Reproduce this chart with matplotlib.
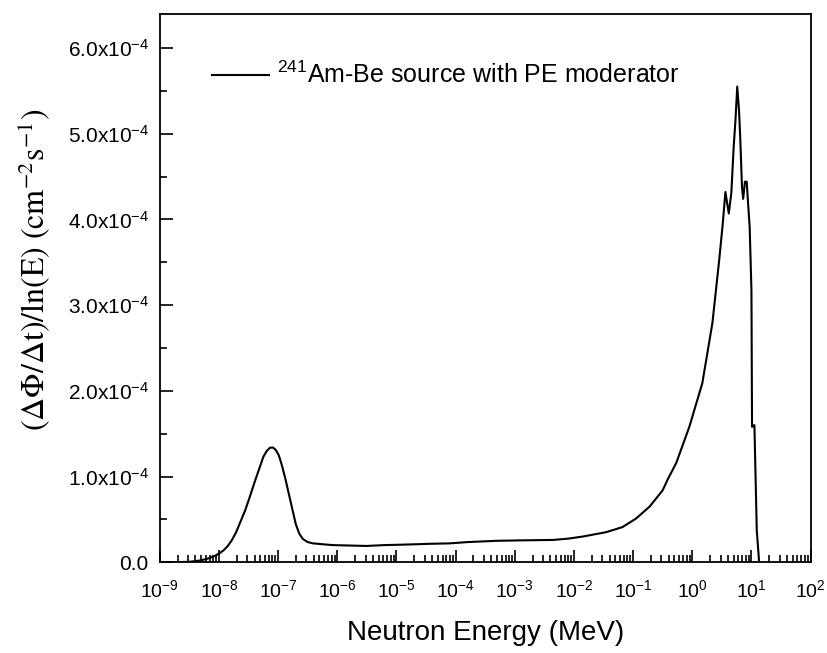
import numpy as np
import matplotlib.pyplot as plt
from matplotlib.ticker import FuncFormatter, MultipleLocator, LogLocator

plt.rcParams['font.family'] = ['Liberation Sans', 'DejaVu Sans']
plt.rcParams['mathtext.fontset'] = 'custom'
plt.rcParams['mathtext.rm'] = 'Liberation Sans'
plt.rcParams['mathtext.it'] = 'Liberation Sans:italic'
plt.rcParams['mathtext.bf'] = 'Liberation Sans:bold'

# log10 of neutron energy (MeV)
log_e = [-8.75, -8.5, -8.32, -8.2, -8.1, -8.0, -7.92, -7.85, -7.78, -7.71,
         -7.65, -7.56, -7.48, -7.40, -7.31, -7.25, -7.19, -7.14, -7.09, -7.04,
         -6.99, -6.94, -6.88, -6.82, -6.76, -6.70, -6.64, -6.58, -6.5, -6.41,
         -6.25, -6.08, -5.8, -5.51, -5.2, -4.9, -4.66, -4.44, -4.1, -3.8,
         -3.31, -2.9, -2.36, -2.1, -1.85, -1.46, -1.18, -0.95, -0.72, -0.50,
         -0.42, -0.27, -0.05, 0.17, 0.34, 0.46, 0.515, 0.56, 0.617, 0.66,
         0.70, 0.73, 0.76, 0.79, 0.81, 0.84, 0.86, 0.89, 0.92, 0.94,
         0.97, 1.0, 1.01, 1.05, 1.09, 1.13]
# flux per lethargy, units of 1e-4 cm^-2 s^-1
flux = [0.0, 0.005, 0.02, 0.04, 0.065, 0.10, 0.14, 0.19, 0.26, 0.35,
        0.45, 0.60, 0.76, 0.93, 1.11, 1.23, 1.30, 1.335, 1.34, 1.31,
        1.25, 1.14, 0.98, 0.80, 0.62, 0.44, 0.33, 0.27, 0.235, 0.22,
        0.21, 0.20, 0.195, 0.19, 0.20, 0.205, 0.21, 0.215, 0.22, 0.235,
        0.25, 0.255, 0.26, 0.275, 0.30, 0.35, 0.41, 0.51, 0.65, 0.84,
        0.96, 1.16, 1.58, 2.09, 2.79, 3.56, 3.95, 4.32, 4.07, 4.31,
        4.85, 5.16, 5.55, 5.27, 4.96, 4.38, 4.24, 4.44, 4.44, 4.22,
        3.91, 3.17, 1.58, 1.60, 0.37, 0.0]

energy = 10.0 ** np.array(log_e)
yvals = np.array(flux) * 1e-4

fig = plt.figure(figsize=(8.28, 6.53), dpi=100)
ax = fig.add_axes([0.193, 0.139, 0.786, 0.840])

ax.plot(energy, yvals, color='black', lw=1.5,
        label=r'$^{241}$Am-Be source with PE moderator')

ax.set_xscale('log')
ax.set_xlim(1e-9, 1e2)
ax.set_ylim(0, 6.4e-4)

ax.xaxis.set_major_locator(LogLocator(base=10, numticks=20))
ax.xaxis.set_minor_locator(LogLocator(base=10, subs=np.arange(2, 10), numticks=20))
ax.xaxis.set_major_formatter(FuncFormatter(lambda v, p: r'$10^{%d}$' % round(np.log10(v))))
ax.yaxis.set_major_locator(MultipleLocator(1e-4))
ax.yaxis.set_minor_locator(MultipleLocator(0.5e-4))


def yfmt(v, p):
    if abs(v) < 1e-12:
        return '0.0'
    return r'%.1fx10$^{-4}$' % (v / 1e-4)


ax.yaxis.set_major_formatter(FuncFormatter(yfmt))

ax.tick_params(which='both', direction='in', top=False, right=False, width=1.2)
ax.tick_params(which='major', length=9)
ax.tick_params(which='minor', length=5)
ax.tick_params(axis='x', labelsize=14, pad=12)
ax.tick_params(axis='y', labelsize=15, pad=8)
for s in ax.spines.values():
    s.set_linewidth(1.3)

ax.set_xlabel('Neutron Energy (MeV)', fontsize=20, labelpad=14)
ax.set_ylabel(r'$(\Delta\Phi/\Delta\mathrm{t})/\mathrm{ln(E)}\ (\mathrm{cm}^{-2}\mathrm{s}^{-1})$',
              fontsize=23, math_fontfamily='stix')
ax.yaxis.set_label_coords(-0.166, 0.533)

leg = ax.legend(loc='upper left', frameon=False, fontsize=18,
                handlelength=2.3, handletextpad=0.3,
                bbox_to_anchor=(0.045, 0.953))

fig.savefig('out.png', dpi=100)
